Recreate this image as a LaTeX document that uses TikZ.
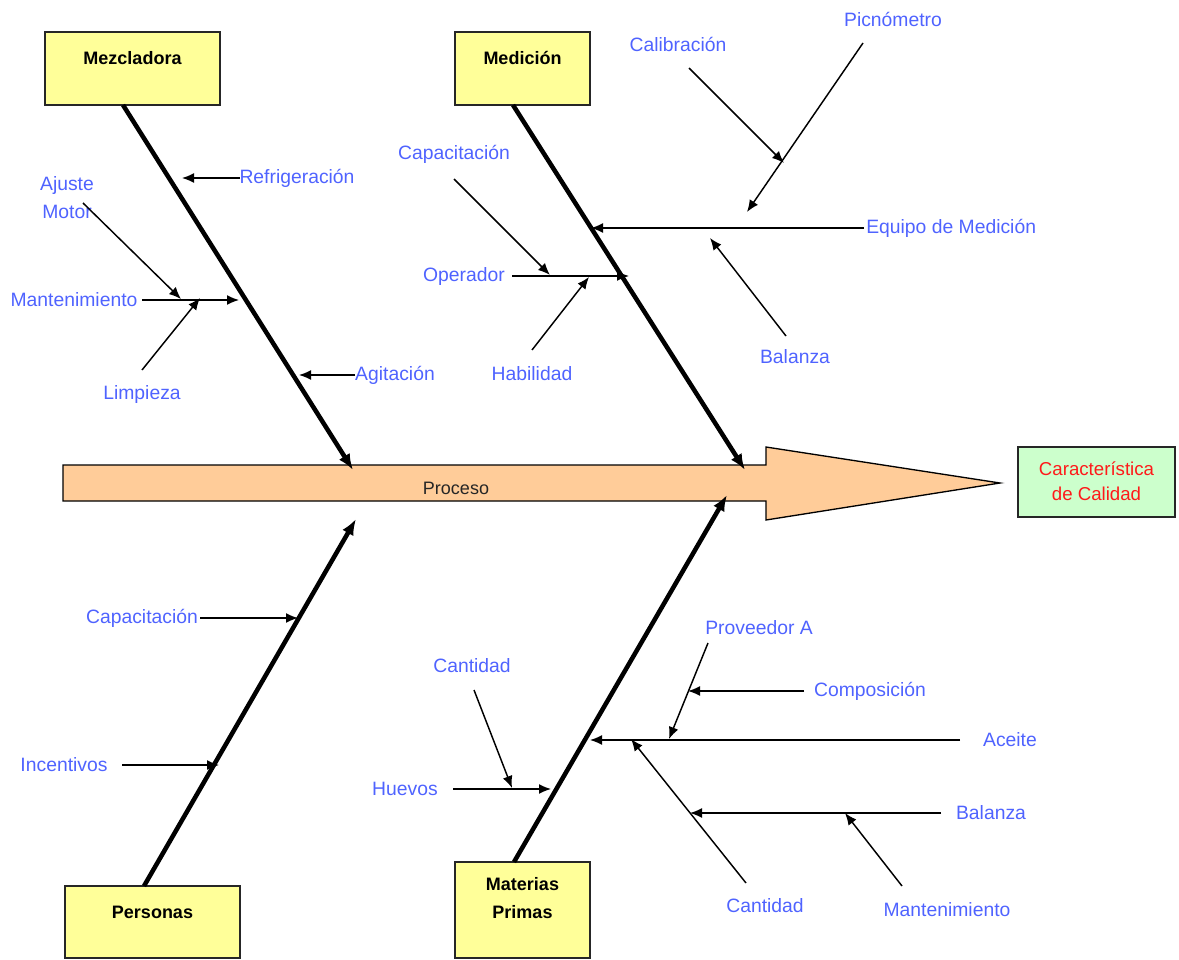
\documentclass[tikz,border=0pt]{standalone}
\usepackage{fontspec}
\setmainfont{Liberation Sans}
\usetikzlibrary{arrows.meta}
\definecolor{boxyellow}{HTML}{FFFF99}
\definecolor{peach}{HTML}{FFCC99}
\definecolor{boxgreen}{HTML}{CCFFCC}
\definecolor{lblblue}{HTML}{4F63FF}
\definecolor{lblred}{HTML}{FF1A1A}
\begin{document}
\begin{tikzpicture}[x=0.75pt,y=-0.75pt,
  lbl/.style={text=lblblue,font=\fontsize{14.5}{21}\selectfont,inner sep=0pt},
  ttl/.style={text=black,font=\bfseries\fontsize{13.5}{21}\selectfont,inner sep=0pt},
  catbox/.style={draw=black!85,line width=1.3pt,fill=boxyellow,inner sep=0pt},
  spinearrow/.style={line width=3.4pt,-{Latex[length=12pt,width=9.5pt]}},
  sub/.style={line width=1.1pt,-{Latex[length=9pt,width=7.5pt]}},
  plain/.style={line width=1.1pt}]
\useasboundingbox (0,0) rectangle (1179,960);

% Process arrow
\draw[fill=peach,line width=1pt] (63,465) -- (766,465) -- (766,447) -- (1000,483) -- (766,520) -- (766,501) -- (63,501) -- cycle;
\node[text=black!85,font=\fontsize{13.5}{16}\selectfont,inner sep=0pt] (proc) at (456,488) {Proceso};

% Category boxes
\node[catbox,minimum width=131.25pt,minimum height=54.75pt] (mezc) at (132.5,68.5) {};
\node[ttl] (mezcT) at (132.5,58) {Mezcladora};
\node[catbox,minimum width=101.25pt,minimum height=54.75pt] (medi) at (522.5,68.5) {};
\node[ttl] (mediT) at (522.5,58) {Medición};
\node[catbox,minimum width=131.25pt,minimum height=54pt] (pers) at (152.5,922) {};
\node[ttl] (persT) at (152.5,912) {Personas};
\node[catbox,minimum width=101.25pt,minimum height=72pt] (mat) at (522.5,910) {};
\node[ttl,align=center] (matT) at (522.5,898) {Materias\\Primas};
\node[draw=black!85,line width=1.3pt,fill=boxgreen,minimum width=117.75pt,minimum height=52.5pt] (cal) at (1096.5,482) {};
\node[text=lblred,font=\fontsize{14}{19}\selectfont,align=center,inner sep=0pt] (calT) at (1096.5,481) {Característica\\de Calidad};

% Spines
\coordinate (s1a) at (123,105); \coordinate (s1b) at (353,470);
\coordinate (s2a) at (513,105); \coordinate (s2b) at (745,470);
\coordinate (s3a) at (144,886); \coordinate (s3b) at (356,519);
\coordinate (s4a) at (514,862); \coordinate (s4b) at (727,495);
\draw[spinearrow] (s1a) -- (s1b);
\draw[spinearrow] (s2a) -- (s2b);
\draw[spinearrow] (s3a) -- (s3b);
\draw[spinearrow] (s4a) -- (s4b);

% ---- Mezcladora
\node[lbl] (refr) at (297,178) {Refrigeración};
\coordinate (refrA) at (240,178); \coordinate (refrB) at (182,178);
\draw[sub] (refrA) -- (refrB);
\node[lbl] (agit) at (395,375) {Agitación};
\coordinate (agitA) at (355,375); \coordinate (agitB) at (299,375);
\draw[sub] (agitA) -- (agitB);
\node[lbl] (mant) at (74,300) {Mantenimiento};
\coordinate (mantA) at (142,300); \coordinate (mantB) at (239,300);
\draw[sub] (mantA) -- (mantB);
\node[lbl,align=center] (ajus) at (67,198) {Ajuste\\Motor};
\coordinate (ajusA) at (83,203); \coordinate (ajusB) at (181,299);
\draw[sub] (ajusA) -- (ajusB);
\node[lbl] (limp) at (142,394) {Limpieza};
\coordinate (limpA) at (142,370); \coordinate (limpB) at (200,298);
\draw[sub] (limpA) -- (limpB);

% ---- Medicion
\node[lbl] (capa) at (454,154) {Capacitación};
\coordinate (capaA) at (454,179); \coordinate (capaB) at (550,275);
\draw[sub] (capaA) -- (capaB);
\node[lbl] (oper) at (464,276) {Operador};
\coordinate (operA) at (512,276); \coordinate (operB) at (629,276);
\draw[sub] (operA) -- (operB);
\node[lbl] (habi) at (532,374) {Habilidad};
\coordinate (habiA) at (532,350); \coordinate (habiB) at (589,277);
\draw[sub] (habiA) -- (habiB);
\node[lbl,anchor=west] (equi) at (866,228) {Equipo de Medición};
\coordinate (equiA) at (864,228); \coordinate (equiB) at (591,228);
\draw[sub] (equiA) -- (equiB);
\node[lbl] (cali) at (678,44) {Calibración};
\coordinate (caliA) at (689,68); \coordinate (caliB) at (784,163);
\draw[sub] (caliA) -- (caliB);
\node[lbl] (picn) at (893,19) {Picnómetro};
\coordinate (picnA) at (863,43); \coordinate (picnB) at (747,212);
\draw[sub] (picnA) -- (picnB);
\node[lbl] (bala) at (795,357) {Balanza};
\coordinate (balaA) at (786,336); \coordinate (balaB) at (710,238);
\draw[sub] (balaA) -- (balaB);

% ---- Personas
\node[lbl] (pcap) at (142,618) {Capacitación};
\coordinate (pcapA) at (200,618); \coordinate (pcapB) at (298,618);
\draw[sub] (pcapA) -- (pcapB);
\node[lbl] (ince) at (64,765) {Incentivos};
\coordinate (inceA) at (122,765); \coordinate (inceB) at (219,765);
\draw[sub] (inceA) -- (inceB);

% ---- Materias Primas
\node[lbl] (cant1) at (472,666) {Cantidad};
\coordinate (cant1A) at (474,690); \coordinate (cant1B) at (512,788);
\draw[sub] (cant1A) -- (cant1B);
\node[lbl] (huev) at (405,789) {Huevos};
\coordinate (huevA) at (453,789); \coordinate (huevB) at (551,789);
\draw[sub] (huevA) -- (huevB);
\node[lbl] (prov) at (759,628) {Proveedor A};
\coordinate (provA) at (708,643); \coordinate (provB) at (669,739);
\draw[sub] (provA) -- (provB);
\node[lbl] (comp) at (870,691) {Composición};
\coordinate (compA) at (804,691); \coordinate (compB) at (688,691);
\draw[sub] (compA) -- (compB);
\node[lbl] (acei) at (1010,740) {Aceite};
\coordinate (aceiA) at (960,740); \coordinate (aceiB) at (590,740);
\draw[sub] (aceiA) -- (aceiB);
\node[lbl] (bal2) at (991,813) {Balanza};
\coordinate (bal2A) at (941,813); \coordinate (bal2B) at (690,813);
\draw[sub] (bal2A) -- (bal2B);
\node[lbl] (cant2) at (765,906) {Cantidad};
\coordinate (cant2A) at (746,883); \coordinate (cant2B) at (631,739);
\draw[sub] (cant2A) -- (cant2B);
\node[lbl] (man2) at (947,910) {Mantenimiento};
\coordinate (man2A) at (902,886); \coordinate (man2B) at (845,813);
\draw[sub] (man2A) -- (man2B);
\end{tikzpicture}
\end{document}
